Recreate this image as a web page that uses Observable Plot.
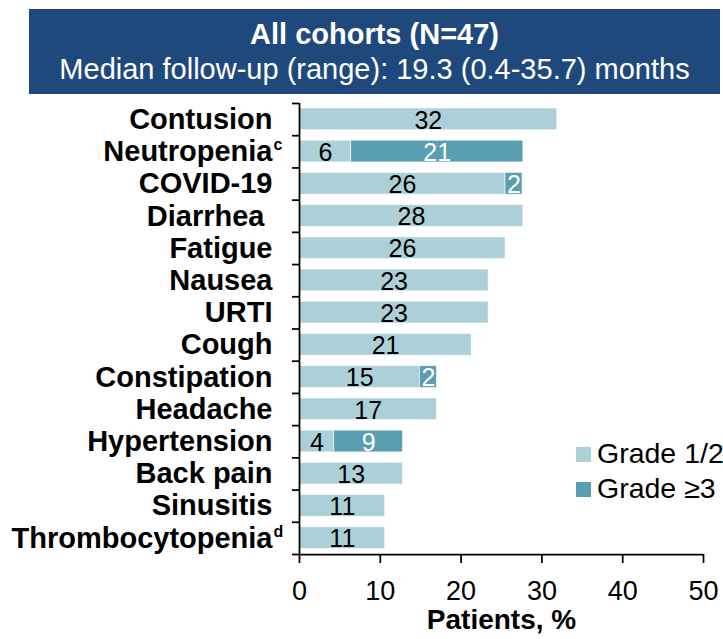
<!DOCTYPE html>
<html><head><meta charset="utf-8">
<script src="https://cdn.jsdelivr.net/npm/d3@7"></script>
<script src="https://cdn.jsdelivr.net/npm/@observablehq/plot@0.6"></script>
<style>
body{margin:0;background:#fff;font-family:"Liberation Sans",Arial,sans-serif;}
#wrap{position:relative;width:723px;height:639px;overflow:hidden;}
#title{position:absolute;left:29px;top:9px;width:691px;height:85px;background:#1f497d;color:#fff;text-align:center;}
#title div{position:absolute;left:0;right:0;line-height:1;white-space:nowrap;}
#t1{top:11px;font-weight:bold;font-size:29px;}
#t2{top:46px;font-size:29px;}
#chart{position:absolute;left:0;top:94px;}
.lg{position:absolute;left:576px;white-space:nowrap;}
.lg span.sw{position:absolute;left:0;width:15px;height:15px;}
.lg span.tx{position:absolute;left:21px;font-size:28.5px;line-height:1;color:#000;}
</style></head>
<body>
<div id="wrap">
  <div id="title"><div id="t1">All cohorts (N=47)</div><div id="t2">Median follow-up (range): 19.3 (0.4-35.7) months</div></div>
  <div id="chart"></div>
  <div id="legend"></div>
</div>
<script>
const categories = ["Contusion","Neutropenia","COVID-19","Diarrhea\u00a0","Fatigue","Nausea","URTI","Cough","Constipation","Headache","Hypertension","Back pain","Sinusitis","Thrombocytopenia"];
const footnotes = ["","c","","","","","","","","","","","","d"];
const grade12 = [31.9, 6.4, 25.5, 27.7, 25.5, 23.4, 23.4, 21.3, 14.9, 17.0, 4.3, 12.8, 10.6, 10.6];
const grade3 = [0, 21.3, 2.1, 0, 0, 0, 0, 0, 2.1, 0, 8.5, 0, 0, 0];
const grade12Labels = ["32","6","26","28","26","23","23","21","15","17","4","13","11","11"];
const grade3Labels = ["","21","2","","","","","","2","","9","","",""];
const seriesNames = ["Grade 1/2", "Grade \u22653"];
const seriesColors = ["#add0d8", "#5a9fb1"];
const xTicks = [0, 10, 20, 30, 40, 50];

const rows = [];
categories.forEach((c, i) => {
  rows.push({i, cat: c, grade: seriesNames[0], x1: 0, x2: grade12[i], label: grade12Labels[i]});
  if (grade3[i] > 0) rows.push({i, cat: c, grade: seriesNames[1], x1: grade12[i], x2: grade12[i] + grade3[i], label: grade3Labels[i]});
});
const cats = categories.map((c, i) => ({i, cat: c, fn: footnotes[i]}));
const font = '"Liberation Sans", Arial, sans-serif';

const chart = Plot.plot({
  width: 723, height: 545,
  marginTop: 9, marginBottom: 85, marginLeft: 299, marginRight: 20,
  style: {fontFamily: font, color: "#000", background: "transparent"},
  x: {domain: [0, 50]},
  y: {domain: [0, categories.length], reverse: true},
  color: {domain: seriesNames, range: seriesColors},
  marks: [
    Plot.rectX(rows, {x1: "x1", x2: "x2", y1: d => d.i, y2: d => d.i + 1, fill: "grade", insetTop: 5, insetBottom: 5.5, stroke: "#fff", strokeWidth: 0.8, strokeOpacity: 0.7}),
    Plot.text(rows, {x: d => (d.x1 + d.x2) / 2, y: d => d.i + 0.5, text: "label", fill: d => d.grade === seriesNames[1] ? "#fff" : "#000", fontSize: 25, dy: 1}),
    Plot.text(cats, {frameAnchor: "left", y: d => d.i + 0.5, text: "cat", textAnchor: "end", dx: -27, fontSize: 29, fontWeight: "bold", fill: "#000"}),
    Plot.text(cats, {frameAnchor: "left", y: d => d.i + 0.5, text: "fn", textAnchor: "start", dx: -26, dy: -7, fontSize: 16, fontWeight: "bold", fill: "#000"}),
    Plot.axisY(d3.range(0, categories.length + 1), {tickSize: 7, tickFormat: () => "", strokeWidth: 1.75, label: null}),
    Plot.ruleX([0], {y1: 0, y2: categories.length, strokeWidth: 1.75}),
    Plot.ruleY([categories.length], {x1: 0, x2: 50, strokeWidth: 1.75}),
    Plot.axisX(xTicks, {tickSize: 9, tickPadding: 17, fontSize: 27, label: null, strokeWidth: 1.75}),
    Plot.text(["Patients, %"], {frameAnchor: "bottom", dy: 74, fontSize: 28, fontWeight: "bold", fill: "#000"})
  ]
});
document.getElementById("chart").appendChild(chart);

const lg = document.getElementById("legend");
seriesNames.forEach((s, k) => {
  const d = document.createElement("div");
  d.className = "lg";
  d.style.top = (447 + 35 * k) + "px";
  d.innerHTML = `<span class="sw" style="background:${seriesColors[k]}"></span><span class="tx" style="top:-8px">${s}</span>`;
  lg.appendChild(d);
});
</script>
</body></html>
